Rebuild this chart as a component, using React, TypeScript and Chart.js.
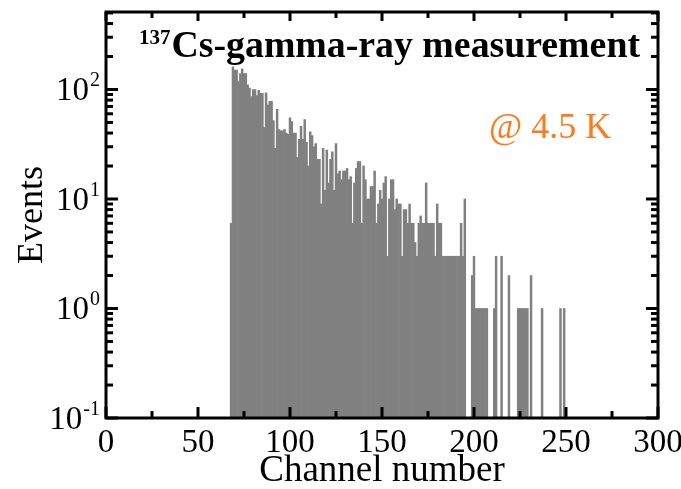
import React, { useEffect, useRef } from 'react';
import { Chart, registerables } from 'chart.js';

Chart.register(...registerables);

// Histogram: counts per channel, starting at channel 68 (0 = empty channel)
const firstChannel = 68;
const counts: number[] = [
  6,
  161, 150, 150, 118, 140, 154, 140, 140, 110, 103, 86,
  100, 100, 88, 98, 92, 92, 45, 93, 72, 78,
  78, 52, 29, 66, 43, 42, 42, 43, 40, 39,
  55, 51, 40, 40, 24, 35, 46, 35, 53, 33,
  20, 41, 38, 30, 32, 23, 23, 9, 29, 12,
  28, 14, 23, 27, 12, 32, 17, 18, 15, 18,
  18, 19, 15, 16, 6, 14, 19, 22, 22, 6,
  20, 15, 10, 10, 13, 13, 18, 6, 9, 12,
  10, 14, 16, 3, 10, 15, 15, 8, 10, 9,
  9, 3, 8, 8, 6, 9, 6, 6, 4, 3,
  6, 7, 6, 6, 14, 6, 6, 6, 6, 3,
  9, 6, 6, 3, 3, 3, 3, 3, 3, 3,
  3, 3, 3, 6, 3, 10, 0, 0, 0, 2,
  3, 1, 1, 1, 1, 1, 1, 1, 0, 0,
  0, 1, 3, 0, 0, 3, 0, 0, 0, 2,
  0, 0, 0, 0, 1, 1, 1, 1, 1, 1,
  0, 2, 0, 0, 0, 0, 0, 1, 0, 0,
  0, 0, 0, 0, 0, 0, 0, 1, 0, 1,
  0,
];
const channels: number[] = counts.map((_, i) => firstChannel + i);

const xMin = 0;
const xMax = 300;
const yMin = 0.1;
const yMax = 510;

const xTickValues = [0, 50, 100, 150, 200, 250, 300];
const xTickLabels = ['0', '50', '100', '150', '200', '250', '300'];
const xMinorValues = [25, 75, 125, 175, 225, 275];
const yTickValues = [0.1, 1, 10, 100];
const yTickBase = '10';
const yTickExponents = ['-1', '0', '1', '2'];
const yMinorMultipliers = [2, 3, 4, 5, 6, 7, 8, 9];
const yDecades = [0.1, 1, 10, 100];

const titleSup = '137';
const titleMain = 'Cs-gamma-ray measurement';
const note = '@ 4.5 K';
const xTitle = 'Channel number';
const yTitle = 'Events';

const SERIF = '"Liberation Serif", "Times New Roman", serif';

const overlay = {
  id: 'overlay',
  afterDatasetsDraw(chart: any) {
    const { ctx, chartArea, scales } = chart;
    const { left, right, top, bottom } = chartArea;
    const xs = scales.x;
    const ys = scales.y;
    ctx.save();
    ctx.strokeStyle = '#000';
    ctx.fillStyle = '#000';
    ctx.lineWidth = 3;
    ctx.lineCap = 'butt';

    const vline = (px: number, y1: number, y2: number) => {
      ctx.beginPath();
      ctx.moveTo(px, y1);
      ctx.lineTo(px, y2);
      ctx.stroke();
    };
    const hline = (py: number, x1: number, x2: number) => {
      ctx.beginPath();
      ctx.moveTo(x1, py);
      ctx.lineTo(x2, py);
      ctx.stroke();
    };
    for (const v of xTickValues) {
      const px = xs.getPixelForValue(v);
      vline(px, bottom, bottom - 11);
      vline(px, top, top + 9);
    }
    for (const v of xMinorValues) {
      const px = xs.getPixelForValue(v);
      vline(px, bottom, bottom - 7);
      vline(px, top, top + 6);
    }
    for (const d of yDecades) {
      for (const m of [1, ...yMinorMultipliers]) {
        const v = d * m;
        if (v < yMin || v > yMax) continue;
        const py = ys.getPixelForValue(v);
        const len = m === 1 ? 12 : 7;
        hline(py, left, left + len);
        hline(py, right, right - len);
      }
    }
    ctx.strokeRect(left, top, right - left, bottom - top);

    // x tick labels
    ctx.font = `33px ${SERIF}`;
    ctx.textAlign = 'center';
    ctx.textBaseline = 'alphabetic';
    xTickValues.forEach((v, i) => {
      ctx.fillText(xTickLabels[i], xs.getPixelForValue(v), 452);
    });

    // y tick labels with superscript exponent
    yTickValues.forEach((v, i) => {
      const py = ys.getPixelForValue(v);
      ctx.font = `20px ${SERIF}`;
      const ew = ctx.measureText(yTickExponents[i]).width;
      const rightEdge = 100;
      ctx.textAlign = 'left';
      ctx.fillText(yTickExponents[i], rightEdge - ew, py - 3);
      ctx.font = `33px ${SERIF}`;
      ctx.textAlign = 'right';
      ctx.fillText(yTickBase, rightEdge - ew - 1, py + 11);
    });

    // axis titles
    ctx.font = `37px ${SERIF}`;
    ctx.textAlign = 'center';
    ctx.fillText(xTitle, (left + right) / 2, 481);
    ctx.font = `36px ${SERIF}`;
    ctx.save();
    ctx.translate(42, (top + bottom) / 2);
    ctx.rotate(-Math.PI / 2);
    ctx.fillText(yTitle, 0, 0);
    ctx.restore();

    // title
    ctx.textAlign = 'left';
    ctx.font = `bold 21px ${SERIF}`;
    ctx.fillText(titleSup, 139, 44);
    const sw = ctx.measureText(titleSup).width;
    ctx.font = `bold 37.8px ${SERIF}`;
    ctx.fillText(titleMain, 139 + sw + 1, 57);

    // note
    ctx.fillStyle = '#ff7a1a';
    ctx.font = `36px ${SERIF}`;
    ctx.fillText(note, 489, 138);

    ctx.restore();
  },
};

export default function App() {
  const canvasRef = useRef<HTMLCanvasElement | null>(null);

  useEffect(() => {
    const canvas = canvasRef.current;
    if (!canvas) return;
    const chart = new Chart(canvas, {
      type: 'bar',
      data: {
        datasets: [
          {
            data: channels.map((c, i) => ({ x: c, y: counts[i] > 0 ? counts[i] : null })) as any,
            backgroundColor: '#808080',
            borderWidth: 0,
            barPercentage: 1,
            categoryPercentage: 1,
          },
        ],
      },
      options: {
        animation: false,
        responsive: false,
        maintainAspectRatio: false,
        layout: { padding: { top: 12, right: 23, left: 0, bottom: 0 } },
        plugins: { legend: { display: false }, tooltip: { enabled: false } },
        scales: {
          x: {
            type: 'linear',
            min: xMin,
            max: xMax,
            offset: false,
            grid: { display: false },
            border: { display: false },
            ticks: { display: false },
            afterFit(s: any) {
              s.height = 71;
            },
          },
          y: {
            type: 'logarithmic',
            min: yMin,
            max: yMax,
            grid: { display: false },
            border: { display: false },
            ticks: { display: false },
            afterFit(s: any) {
              s.width = 106;
            },
          },
        },
      } as any,
      plugins: [overlay],
    });
    return () => chart.destroy();
  }, []);

  return (
    <div style={{ position: 'absolute', left: 0, top: 0, width: 681, height: 489, background: '#fff' }}>
      <canvas ref={canvasRef} width={681} height={489} style={{ display: 'block', width: 681, height: 489 }} />
    </div>
  );
}
